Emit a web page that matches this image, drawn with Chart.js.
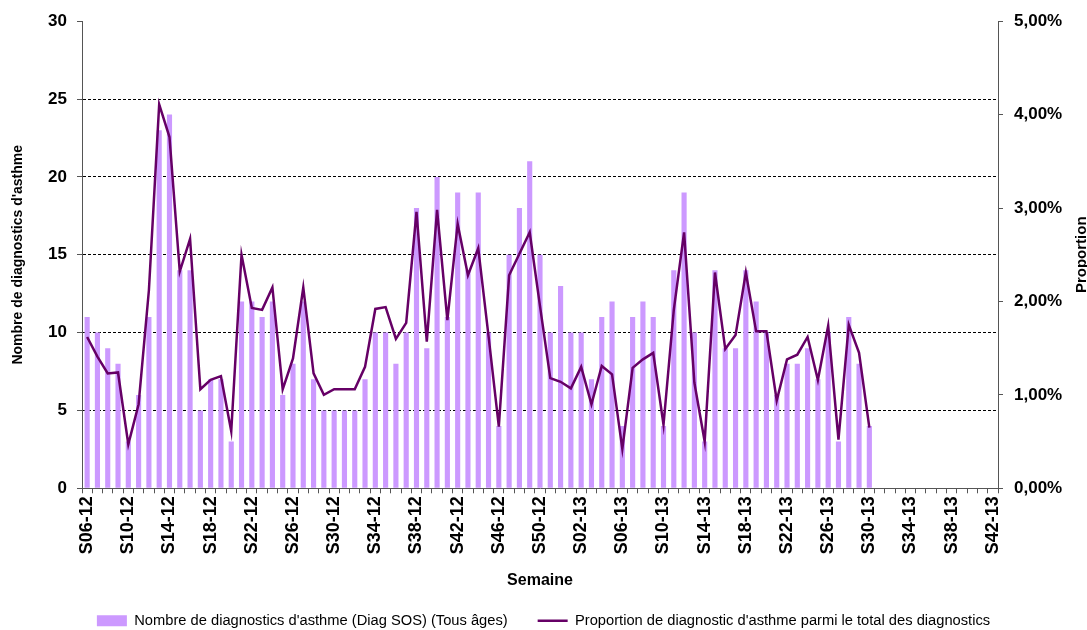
<!DOCTYPE html>
<html>
<head>
<meta charset="utf-8">
<title>Diagnostics d'asthme</title>
<script src="https://cdn.jsdelivr.net/npm/chart.js@4/dist/chart.umd.min.js"></script>
<style>
  html, body { margin: 0; padding: 0; background: #fff; }
  #wrap { width: 1087px; height: 630px; position: relative; }
</style>
</head>
<body>
<div id="wrap"><canvas id="asthmeChart" width="1087" height="630"></canvas></div>
<script>
// Semaines (S06-12 .. S42-13)
const weeks = [
  'S06-12','S07-12','S08-12','S09-12','S10-12','S11-12','S12-12','S13-12','S14-12','S15-12',
  'S16-12','S17-12','S18-12','S19-12','S20-12','S21-12','S22-12','S23-12','S24-12','S25-12',
  'S26-12','S27-12','S28-12','S29-12','S30-12','S31-12','S32-12','S33-12','S34-12','S35-12',
  'S36-12','S37-12','S38-12','S39-12','S40-12','S41-12','S42-12','S43-12','S44-12','S45-12',
  'S46-12','S47-12','S48-12','S49-12','S50-12','S51-12','S52-12',
  'S01-13','S02-13','S03-13','S04-13','S05-13','S06-13','S07-13','S08-13','S09-13','S10-13',
  'S11-13','S12-13','S13-13','S14-13','S15-13','S16-13','S17-13','S18-13','S19-13','S20-13',
  'S21-13','S22-13','S23-13','S24-13','S25-13','S26-13','S27-13','S28-13','S29-13','S30-13',
  'S31-13','S32-13','S33-13','S34-13','S35-13','S36-13','S37-13','S38-13','S39-13','S40-13',
  'S41-13','S42-13'
];

// Nombre de diagnostics d'asthme (Diag SOS), S06-12 .. S30-13
const nbDiagnostics = [
  11, 10, 9, 8, 3, 6, 11, 23, 24, 14,
  14, 5, 7, 7, 3, 12, 12, 11, 12, 6,
  8, 12, 7, 5, 5, 5, 5, 7, 10, 10,
  8, 10, 18, 9, 20, 11, 19, 14, 19, 10,
  4, 15, 18, 21, 15, 10, 13,
  10, 10, 7, 11, 12, 4, 11, 12, 11, 4,
  14, 19, 10, 3, 14, 9, 9, 14, 12, 10,
  6, 8, 8, 9, 7, 10, 3, 11, 8, 4
];

// Proportion parmi le total des diagnostics (en %)
const proportion = [
  1.62, 1.41, 1.23, 1.24, 0.47, 0.90, 2.12, 4.11, 3.76, 2.32,
  2.67, 1.06, 1.16, 1.20, 0.61, 2.50, 1.93, 1.91, 2.15, 1.06,
  1.39, 2.15, 1.23, 1.00, 1.06, 1.06, 1.06, 1.30, 1.92, 1.94,
  1.60, 1.77, 2.96, 1.57, 2.98, 1.80, 2.83, 2.28, 2.57, 1.63,
  0.66, 2.28, 2.51, 2.74, 1.95, 1.18, 1.14,
  1.07, 1.30, 0.90, 1.31, 1.22, 0.42, 1.29, 1.38, 1.45, 0.68,
  1.91, 2.74, 1.13, 0.50, 2.31, 1.49, 1.64, 2.31, 1.68, 1.68,
  0.94, 1.38, 1.43, 1.62, 1.16, 1.74, 0.52, 1.75, 1.45, 0.65
];

const countTicks = [0, 5, 10, 15, 20, 25, 30];
const percentTicks = [0, 1, 2, 3, 4, 5];

const FONT = "'Liberation Sans', Arial, sans-serif";
const barColor = '#CC99FF';
const lineColor = '#660066';
const axisColor = '#555555';

// Titre de l'axe de droite, lu de bas en haut comme l'original
const rightTitle = {
    id: 'rightTitle',
    afterDraw(chart) {
        const { ctx, chartArea } = chart;
        ctx.save();
        ctx.translate(1082, (chartArea.top + chartArea.bottom) / 2);
        ctx.rotate(-Math.PI / 2);
        ctx.font = 'bold 15px ' + FONT;
        ctx.fillStyle = '#000';
        ctx.textAlign = 'center';
        ctx.textBaseline = 'middle';
        ctx.fillText('Proportion', 0, 0);
        ctx.restore();
    }
};

const ctx = document.getElementById('asthmeChart').getContext('2d');

new Chart(ctx, {
    type: 'bar',
    data: {
        labels: weeks,
        datasets: [
            {
                type: 'line',
                label: "Proportion de diagnostic d'asthme parmi le total des diagnostics",
                data: proportion,
                yAxisID: 'y1',
                borderColor: lineColor,
                backgroundColor: lineColor,
                borderWidth: 2.5,
                pointRadius: 0,
                pointHoverRadius: 0,
                pointStyle: 'line',
                tension: 0,
                order: 0
            },
            {
                type: 'bar',
                label: "Nombre de diagnostics d'asthme (Diag SOS) (Tous âges)",
                data: nbDiagnostics,
                yAxisID: 'y',
                backgroundColor: barColor,
                borderWidth: 0,
                barPercentage: 0.5,
                categoryPercentage: 1,
                pointStyle: 'rect',
                order: 1
            }
        ]
    },
    options: {
        responsive: false,
        animation: false,
        layout: { padding: { top: 20, left: 0, right: 0, bottom: -8 } },
        plugins: {
            tooltip: { enabled: false },
            legend: {
                position: 'bottom',
                reverse: true,
                labels: {
                    usePointStyle: true,
                    pointStyleWidth: 30,
                    boxHeight: 11,
                    padding: 30,
                    color: '#000',
                    font: { family: FONT, size: 14.7 }
                }
            }
        },
        scales: {
            x: {
                afterFit: (scale) => { scale.height = 95; },
                grid: {
                    display: true,
                    offset: true,
                    drawOnChartArea: false,
                    drawTicks: true,
                    tickLength: 5,
                    tickColor: axisColor
                },
                border: { display: true, color: axisColor, width: 1 },
                ticks: {
                    autoSkip: false,
                    minRotation: 90,
                    maxRotation: 90,
                    padding: 3,
                    color: '#000',
                    font: { family: FONT, size: 18, weight: 'bold' },
                    callback: function (value, index) {
                        return index % 4 === 0 ? weeks[index] : '';
                    }
                },
                title: {
                    display: true,
                    text: 'Semaine',
                    color: '#000',
                    font: { family: FONT, size: 16, weight: 'bold' },
                    padding: { top: 0, bottom: -7 }
                }
            },
            y: {
                position: 'left',
                min: countTicks[0],
                max: countTicks[countTicks.length - 1],
                afterFit: (scale) => { scale.width = 82; },
                afterBuildTicks: (scale) => { scale.ticks = countTicks.map(v => ({ value: v })); },
                grid: {
                    drawTicks: true,
                    tickLength: 5,
                    tickColor: axisColor,
                    lineWidth: 1,
                    color: (c) => (c.tick && (c.tick.value === 0 || c.tick.value === 30)) ? 'rgba(0,0,0,0)' : '#000'
                },
                border: { display: true, color: axisColor, width: 1, dash: [3, 2] },
                ticks: {
                    padding: 10,
                    color: '#000',
                    font: { family: FONT, size: 17, weight: 'bold' }
                },
                title: {
                    display: true,
                    text: "Nombre de diagnostics d'asthme",
                    color: '#000',
                    font: { family: FONT, size: 14, weight: 'bold' },
                    padding: { top: 10, bottom: 0 }
                }
            },
            y1: {
                position: 'right',
                min: percentTicks[0],
                max: percentTicks[percentTicks.length - 1],
                afterFit: (scale) => { scale.width = 89; },
                afterBuildTicks: (scale) => { scale.ticks = percentTicks.map(v => ({ value: v })); },
                grid: {
                    drawOnChartArea: false,
                    drawTicks: true,
                    tickLength: 5,
                    tickColor: axisColor
                },
                border: { display: true, color: axisColor, width: 1 },
                ticks: {
                    padding: 11,
                    color: '#000',
                    font: { family: FONT, size: 17, weight: 'bold' },
                    callback: (v) => v.toFixed(2).replace('.', ',') + '%'
                }
            }
        }
    },
    plugins: [rightTitle]
});
</script>
</body>
</html>
